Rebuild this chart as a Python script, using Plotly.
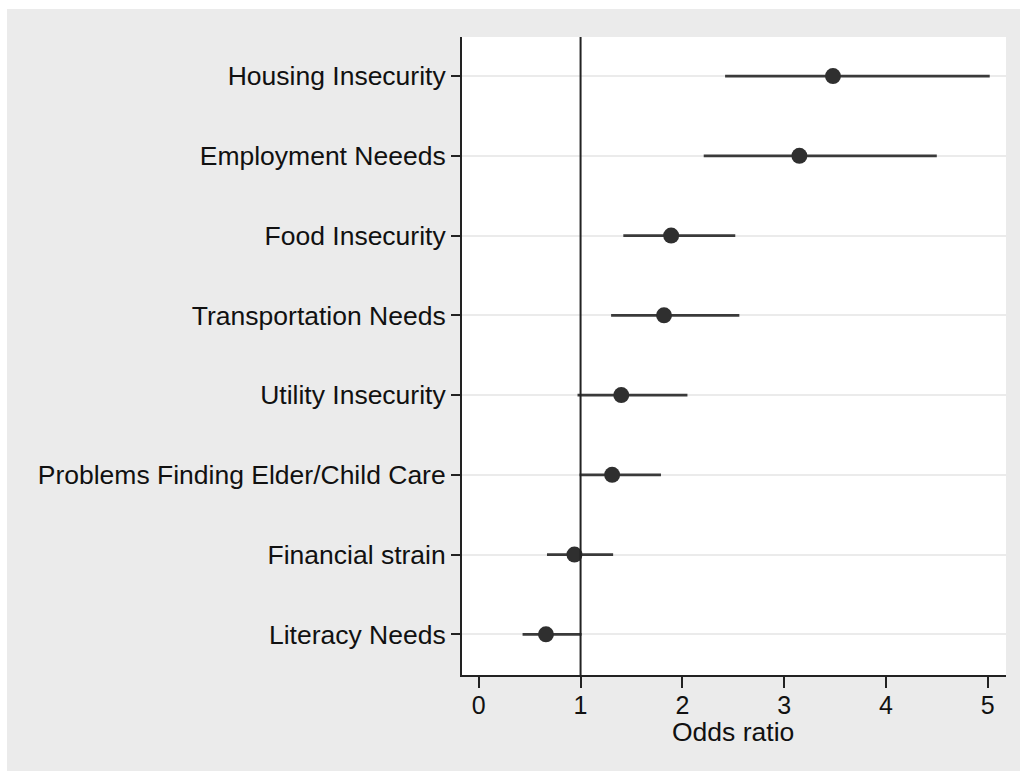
import plotly.graph_objects as go

# Odds ratios with 95% confidence intervals, listed bottom to top
categories = [
    "Literacy Needs",
    "Financial strain",
    "Problems Finding Elder/Child Care",
    "Utility Insecurity",
    "Transportation Needs",
    "Food Insecurity",
    "Employment Neeeds",
    "Housing Insecurity",
]
odds_ratio = [0.66, 0.94, 1.31, 1.40, 1.82, 1.89, 3.15, 3.48]
ci_low = [0.43, 0.67, 0.99, 0.97, 1.30, 1.42, 2.21, 2.42]
ci_high = [1.01, 1.32, 1.79, 2.05, 2.56, 2.52, 4.50, 5.02]
x_ticks = [0, 1, 2, 3, 4, 5]

err_plus = [h - o for h, o in zip(ci_high, odds_ratio)]
err_minus = [o - l for o, l in zip(odds_ratio, ci_low)]

FONT = "Liberation Sans, Arial, sans-serif"
INK = "#222222"
BG = "#ebebeb"
FS = 26.5

W, H = 1020, 771
L, R, T, B = 462, 14, 37, 96
pw, ph = W - L - R, H - T - B


def px_to_paper_x(px):
    return (px - L) / pw


def px_to_paper_y(py):
    return (H - B - py) / ph


fig = go.Figure()
fig.add_trace(go.Scatter(
    x=odds_ratio,
    y=categories,
    mode="markers",
    marker=dict(size=16, color="#2f2f2f"),
    error_x=dict(type="data", symmetric=False, array=err_plus,
                 arrayminus=err_minus, thickness=2.6, width=0,
                 color="#3a3a3a"),
    showlegend=False,
))

shapes = [
    # reference line at OR = 1
    dict(type="line", xref="x", yref="paper", x0=1, x1=1, y0=0, y1=1,
         line=dict(color=INK, width=2), layer="above"),
    # thin white border on the top and left edges of the page
    dict(type="rect", xref="paper", yref="paper",
         x0=px_to_paper_x(0), x1=px_to_paper_x(W),
         y0=px_to_paper_y(9), y1=px_to_paper_y(-2),
         fillcolor="white", line=dict(width=0)),
    dict(type="rect", xref="paper", yref="paper",
         x0=px_to_paper_x(-2), x1=px_to_paper_x(7),
         y0=px_to_paper_y(H + 2), y1=px_to_paper_y(-2),
         fillcolor="white", line=dict(width=0)),
]

fig.update_layout(
    width=W, height=H,
    margin=dict(l=L, r=R, t=T, b=B, pad=0),
    paper_bgcolor=BG,
    plot_bgcolor="white",
    font=dict(family=FONT, size=FS, color="#111111"),
    shapes=shapes,
    annotations=[dict(
        text="Odds ratio", xref="paper", yref="paper",
        x=px_to_paper_x(733), y=px_to_paper_y(732),
        xanchor="center", yanchor="middle", showarrow=False,
        font=dict(size=FS),
    )],
)
fig.update_xaxes(
    range=[-0.165, 5.18],
    tickvals=x_ticks,
    ticks="outside", ticklen=11, tickwidth=2, tickcolor=INK,
    showline=True, linecolor=INK, linewidth=2,
    showgrid=False, zeroline=False,
    tickfont=dict(size=25),
    ticklabelstandoff=-4,
)
fig.update_yaxes(
    categoryorder="array", categoryarray=categories,
    range=[-0.51, 7.49],
    ticks="outside", ticklen=9, tickwidth=2, tickcolor=INK,
    showline=True, linecolor=INK, linewidth=2,
    showgrid=True, gridcolor="#ebebeb", gridwidth=2,
    zeroline=False,
    tickfont=dict(size=FS),
    ticklabelstandoff=0,
)

fig.write_html("out.html")
